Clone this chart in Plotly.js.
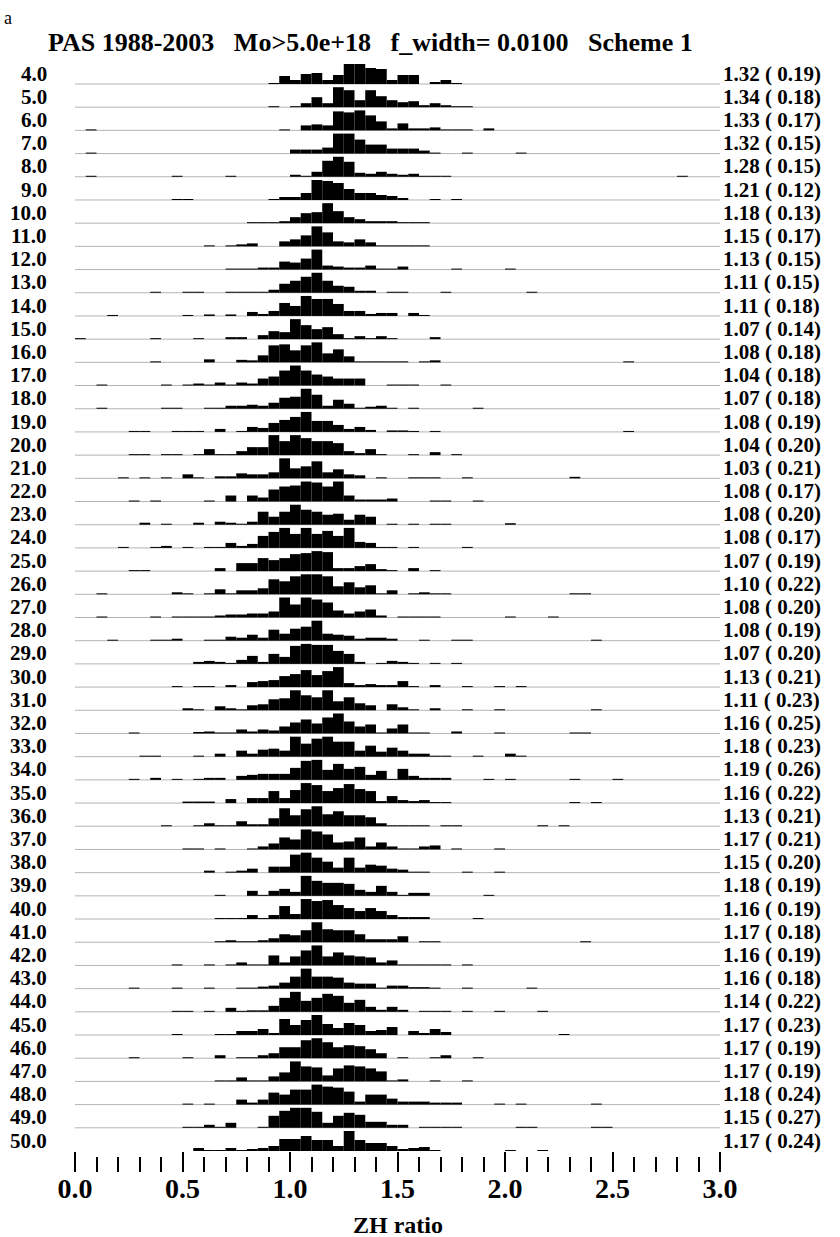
<!DOCTYPE html>
<html><head><meta charset="utf-8">
<script src="https://cdn.plot.ly/plotly-3.0.1.min.js"></script>
<style>html,body{margin:0;padding:0;background:#fff;} #chart{width:840px;height:1237px;}</style>
</head><body><div id="chart"></div>
<script>
// ---- data ----
const depths = [4,5,6,7,8,9,10,11,12,13,14,15,16,17,18,19,20,21,22,23,24,25,26,27,28,29,30,31,32,33,34,35,36,37,38,39,40,41,42,43,44,45,46,47,48,49,50];
const meanZH = [1.32,1.34,1.33,1.32,1.28,1.21,1.18,1.15,1.13,1.11,1.11,1.07,1.08,1.04,1.07,1.08,1.04,1.03,1.08,1.08,1.08,1.07,1.10,1.08,1.08,1.07,1.13,1.11,1.16,1.18,1.19,1.16,1.13,1.17,1.15,1.18,1.16,1.17,1.16,1.16,1.14,1.17,1.17,1.17,1.18,1.15,1.17];
const stdZH  = [0.19,0.18,0.17,0.15,0.15,0.12,0.13,0.17,0.15,0.15,0.18,0.14,0.18,0.18,0.18,0.19,0.20,0.21,0.17,0.20,0.17,0.19,0.22,0.20,0.19,0.20,0.21,0.23,0.25,0.23,0.26,0.22,0.21,0.21,0.20,0.19,0.19,0.18,0.19,0.18,0.22,0.23,0.19,0.19,0.24,0.27,0.24];
const binWidth = 0.05;
// histograms: [bin left edge, relative height]
const h04 = [[0.90,1],[0.95,8],[1.00,4],[1.05,10],[1.10,11],[1.15,4],[1.20,9],[1.25,20],[1.30,20],[1.35,16],[1.40,15],[1.45,4],[1.50,9],[1.55,9],[1.65,2],[1.70,4],[1.75,1]];
const h05 = [[0.90,1],[1.00,1],[1.05,4],[1.10,10],[1.15,4],[1.20,20],[1.25,17],[1.30,7],[1.35,17],[1.40,11],[1.45,7],[1.50,5],[1.55,6],[1.60,2],[1.65,4],[1.70,2],[1.75,1],[1.80,1]];
const h06 = [[0.05,1],[0.95,1],[1.05,5],[1.10,6],[1.15,5],[1.20,19],[1.25,18],[1.30,20],[1.35,15],[1.40,9],[1.45,2],[1.50,7],[1.55,2],[1.60,2],[1.65,3],[1.70,1],[1.75,1],[1.80,1],[1.90,2]];
const h07 = [[0.05,1],[1.00,4],[1.05,4],[1.10,4],[1.15,6],[1.20,20],[1.25,20],[1.30,14],[1.35,9],[1.40,9],[1.45,5],[1.50,5],[1.55,5],[1.60,3],[1.65,1],[1.80,1],[2.05,1]];
const h08 = [[0.05,1],[0.45,1],[0.70,1],[1.00,2],[1.05,1],[1.10,5],[1.15,16],[1.20,20],[1.25,15],[1.30,4],[1.35,3],[1.40,5],[1.45,3],[1.50,2],[1.55,3],[1.60,1],[1.65,1],[1.70,1],[2.80,1]];
const h09 = [[0.45,1],[0.50,1],[0.90,1],[0.95,3],[1.00,3],[1.05,7],[1.10,20],[1.15,19],[1.20,17],[1.25,11],[1.30,7],[1.35,7],[1.40,5],[1.45,4],[1.50,2],[1.65,1],[1.75,1]];
const h10 = [[0.80,1],[0.85,1],[0.90,1],[0.95,2],[1.00,6],[1.05,10],[1.10,11],[1.15,20],[1.20,12],[1.25,6],[1.30,4],[1.35,2],[1.40,2],[1.45,2],[1.50,1],[1.55,1],[1.60,1]];
const h11 = [[0.60,1],[0.70,1],[0.75,2],[0.80,3],[0.95,5],[1.00,7],[1.05,11],[1.10,20],[1.15,14],[1.20,5],[1.25,4],[1.30,7],[1.35,4],[1.40,1],[1.45,1],[1.50,1],[1.55,1],[1.60,1]];
const h12 = [[0.70,1],[0.75,1],[0.80,1],[0.85,2],[0.90,2],[0.95,8],[1.00,7],[1.05,11],[1.10,20],[1.15,4],[1.20,3],[1.25,2],[1.30,2],[1.35,4],[1.40,1],[1.45,1],[1.50,3],[1.75,1],[2.00,1]];
const h13 = [[0.35,1],[0.50,1],[0.55,1],[0.70,1],[0.75,1],[0.80,1],[0.85,1],[0.90,3],[0.95,9],[1.00,12],[1.05,16],[1.10,20],[1.15,12],[1.20,7],[1.25,6],[1.30,2],[1.35,2],[1.45,1],[1.50,1],[1.70,1],[2.10,1]];
const h14 = [[0.15,1],[0.50,1],[0.60,1.5],[0.70,1.5],[0.80,4],[0.85,2],[0.90,5],[0.95,13],[1.00,10],[1.05,20],[1.10,17],[1.15,17],[1.20,12],[1.25,5],[1.30,5],[1.35,2],[1.40,3],[1.45,3],[1.55,3],[1.60,1]];
const h15 = [[0.00,1],[0.35,1],[0.55,1],[0.70,2],[0.75,2],[0.85,4],[0.90,8],[0.95,7],[1.00,20],[1.05,14],[1.10,10],[1.15,12],[1.20,5],[1.25,1],[1.30,3],[1.35,1],[1.40,3],[1.45,1],[1.65,2]];
const h16 = [[0.35,1],[0.60,3],[0.75,2.5],[0.80,2],[0.85,7],[0.90,17],[0.95,18],[1.00,12],[1.05,17],[1.10,20],[1.15,9],[1.20,13],[1.25,6],[1.30,1],[1.35,1],[1.40,1],[1.45,1],[1.50,1],[1.60,1],[1.65,2],[2.55,1]];
const h17 = [[0.10,1],[0.40,1],[0.50,1],[0.55,2],[0.60,1],[0.65,3],[0.70,1],[0.75,3],[0.80,2],[0.85,7],[0.90,9],[0.95,15],[1.00,20],[1.05,15],[1.10,11],[1.15,9],[1.20,7],[1.25,7],[1.30,7],[1.45,1],[1.50,1],[1.55,1],[1.70,1]];
const h18 = [[0.10,1],[0.40,1],[0.45,1],[0.60,1],[0.65,1],[0.70,3],[0.75,3],[0.80,4],[0.85,3],[0.90,6],[0.95,11],[1.00,12],[1.05,20],[1.10,14],[1.15,3],[1.20,9],[1.25,5],[1.30,1],[1.35,2],[1.40,3],[1.45,1],[1.55,1],[1.85,1]];
const h19 = [[0.25,1],[0.30,1],[0.45,1],[0.50,1],[0.55,1],[0.65,3],[0.75,1],[0.80,5],[0.85,4],[0.90,9],[0.95,12],[1.00,15],[1.05,20],[1.10,11],[1.15,11],[1.20,7],[1.25,3],[1.30,5],[1.35,2],[1.45,1.5],[1.50,1.5],[1.55,1],[1.65,1],[2.55,1]];
const h20 = [[0.25,1],[0.30,1],[0.40,1],[0.45,1],[0.55,1],[0.60,6],[0.65,1],[0.70,1],[0.75,4],[0.80,8],[0.85,8],[0.90,20],[0.95,14],[1.00,20],[1.05,17],[1.10,14],[1.15,14],[1.20,12],[1.25,4],[1.30,2],[1.35,6],[1.40,1],[1.55,1],[1.65,3],[1.75,1]];
const h21 = [[0.20,1],[0.30,1],[0.40,1],[0.50,4],[0.55,1],[0.65,2],[0.70,2],[0.75,5],[0.80,4],[0.85,4],[0.90,6],[0.95,20],[1.00,10],[1.05,12],[1.10,17],[1.15,6],[1.20,9],[1.25,4],[1.30,3],[1.40,1],[1.55,1],[1.60,1],[1.65,1],[1.80,1],[2.30,1.5]];
const h22 = [[0.25,1],[0.35,1],[0.60,1],[0.70,6],[0.80,6],[0.85,4],[0.90,12],[0.95,15],[1.00,16],[1.05,20],[1.10,19],[1.15,15],[1.20,20],[1.25,6],[1.30,2],[1.35,2],[1.40,2],[1.45,3],[1.65,1],[1.70,1],[1.85,1]];
const h23 = [[0.30,2],[0.40,1],[0.55,2],[0.65,3],[0.70,2],[0.75,1],[0.80,3],[0.85,13],[0.90,8],[0.95,13],[1.00,20],[1.05,15],[1.10,13],[1.15,10],[1.20,11],[1.25,5],[1.30,10],[1.35,8],[1.45,1],[1.55,1],[1.65,1],[1.70,1],[2.00,1.5]];
const h24 = [[0.20,1],[0.35,1],[0.40,2],[0.50,1],[0.60,1],[0.65,1],[0.70,5],[0.75,2],[0.80,4],[0.85,12],[0.90,16],[0.95,20],[1.00,14],[1.05,20],[1.10,14],[1.15,17],[1.20,12],[1.25,20],[1.30,6],[1.35,5],[1.40,1],[1.45,1],[1.55,1],[1.80,1]];
const h25 = [[0.25,1],[0.30,1],[0.65,3],[0.75,8],[0.80,8],[0.85,13],[0.90,11],[0.95,13],[1.00,17],[1.05,18],[1.10,20],[1.15,19],[1.20,3],[1.25,3],[1.30,5],[1.35,7],[1.40,2],[1.45,1],[1.55,3],[1.65,1]];
const h26 = [[0.10,1],[0.45,2],[0.50,1],[0.60,1],[0.65,5],[0.70,1],[0.75,4],[0.80,4],[0.85,6],[0.90,15],[0.95,13],[1.00,18],[1.05,20],[1.10,20],[1.15,18],[1.20,8],[1.25,12],[1.30,7],[1.35,9],[1.40,1],[1.45,4],[1.55,1],[1.60,2],[1.65,1],[1.70,1],[2.30,1],[2.35,1]];
const h27 = [[0.10,1],[0.35,1],[0.45,1],[0.50,1],[0.55,1],[0.60,1],[0.65,2],[0.70,3],[0.75,3],[0.80,4],[0.85,4],[0.90,6],[0.95,20],[1.00,13],[1.05,20],[1.10,18],[1.15,15],[1.20,7],[1.25,4],[1.30,6],[1.35,8],[1.40,2],[1.50,1],[1.55,1],[1.60,1],[1.65,1],[2.00,1],[2.20,1]];
const h28 = [[0.15,1],[0.35,1],[0.40,1],[0.45,2],[0.60,1],[0.65,1],[0.70,4],[0.75,3],[0.80,6],[0.85,3],[0.90,11],[0.95,7],[1.00,12],[1.05,14],[1.10,20],[1.15,7],[1.20,6],[1.25,5],[1.30,2],[1.35,3],[1.40,3],[1.45,2],[1.60,1],[1.75,1],[1.80,1],[2.40,1]];
const h29 = [[0.55,2],[0.60,3],[0.65,2],[0.70,1],[0.75,4],[0.80,8],[0.85,2],[0.90,10],[0.95,7],[1.00,18],[1.05,20],[1.10,19],[1.15,19],[1.20,13],[1.25,10],[1.30,2],[1.40,1],[1.45,3],[1.50,2],[1.55,1],[1.65,1],[1.75,1]];
const h30 = [[0.45,1],[0.55,1],[0.60,1],[0.70,2],[0.80,5],[0.85,6],[0.90,7],[0.95,11],[1.00,13],[1.05,17],[1.10,12],[1.15,16],[1.20,20],[1.25,4],[1.30,2],[1.35,3],[1.40,2],[1.45,2],[1.50,6],[1.55,1],[1.65,2],[1.80,1],[1.95,1],[2.05,1]];
const h31 = [[0.50,2],[0.55,1],[0.65,4],[0.70,2],[0.75,1],[0.80,5],[0.85,6],[0.90,11],[0.95,12],[1.00,20],[1.05,15],[1.10,13],[1.15,20],[1.20,9],[1.25,13],[1.30,7],[1.35,5],[1.45,6],[1.50,3],[1.55,1],[1.65,2],[1.80,1],[1.95,1],[2.40,1]];
const h32 = [[0.25,1],[0.55,1.5],[0.60,2],[0.65,1],[0.70,1],[0.75,4],[0.80,2],[0.85,4],[0.90,3],[0.95,7],[1.00,11],[1.05,14],[1.10,10],[1.15,16],[1.20,20],[1.25,12],[1.30,7],[1.35,9],[1.40,1],[1.45,5],[1.50,9],[1.55,1],[1.60,1],[1.75,2],[1.95,1],[2.30,1],[2.35,1]];
const h33 = [[0.30,1],[0.35,1],[0.55,1],[0.65,3],[0.75,6],[0.80,3],[0.85,7],[0.90,8],[0.95,6],[1.00,20],[1.05,13],[1.10,18],[1.15,20],[1.20,15],[1.25,15],[1.30,6],[1.35,11],[1.40,5],[1.45,9],[1.50,6],[1.55,3],[1.60,3],[1.65,1],[1.70,1],[1.85,1],[2.00,3],[2.05,1]];
const h34 = [[0.25,1],[0.35,2],[0.45,1],[0.55,1],[0.60,2],[0.65,2],[0.75,4],[0.80,5],[0.85,6],[0.90,6],[0.95,6],[1.00,12],[1.05,19],[1.10,20],[1.15,10],[1.20,16],[1.25,11],[1.30,13],[1.35,5],[1.40,9],[1.45,1],[1.50,11],[1.55,4],[1.60,2],[1.65,2],[1.70,2],[1.90,1],[2.00,1],[2.30,1],[2.50,1]];
const h35 = [[0.50,1.5],[0.55,1.5],[0.60,1.5],[0.70,4],[0.80,5],[0.85,5],[0.90,12],[0.95,5],[1.00,13],[1.05,20],[1.10,18],[1.15,12],[1.20,15],[1.25,19],[1.30,14],[1.35,12],[1.40,2],[1.45,7],[1.50,3],[1.55,2],[1.60,3],[1.65,1],[1.70,1],[2.30,1],[2.40,1]];
const h36 = [[0.40,1],[0.55,1],[0.60,3],[0.65,1],[0.70,1],[0.75,5],[0.80,2],[0.85,2],[0.90,8],[0.95,18],[1.00,11],[1.05,17],[1.10,20],[1.15,12],[1.20,15],[1.25,11],[1.30,11],[1.35,9],[1.40,3],[1.45,1],[1.50,1],[1.55,1],[1.60,1],[1.70,1],[1.75,1],[2.15,1],[2.25,1]];
const h37 = [[0.50,1],[0.55,1],[0.65,1],[0.80,1],[0.85,3],[0.90,6],[0.95,12],[1.00,10],[1.05,20],[1.10,18],[1.15,15],[1.20,7],[1.25,8],[1.30,12],[1.35,3],[1.40,7],[1.45,3],[1.50,1],[1.55,1],[1.60,3],[1.65,4],[1.75,1],[1.95,1]];
const h38 = [[0.60,2],[0.70,1],[0.75,2],[0.80,4],[0.90,6],[0.95,6],[1.00,18],[1.05,20],[1.10,15],[1.15,11],[1.20,5],[1.25,15],[1.30,5],[1.35,8],[1.40,7],[1.45,4],[1.50,3],[1.55,1],[1.60,1],[1.80,1],[1.95,1]];
const h39 = [[0.65,1],[0.80,5],[0.85,1],[0.90,5],[0.95,7],[1.00,4],[1.05,20],[1.10,15],[1.15,13],[1.20,13],[1.25,12],[1.30,6],[1.35,4],[1.40,10],[1.45,4],[1.50,1],[1.55,3],[1.60,3],[1.90,1]];
const h40 = [[0.65,1],[0.70,1],[0.75,1],[0.80,4],[0.85,1],[0.90,4],[0.95,13],[1.00,5],[1.05,20],[1.10,18],[1.15,19],[1.20,14],[1.25,11],[1.30,8],[1.35,11],[1.40,8],[1.45,4],[1.50,2],[1.55,2],[1.60,2],[1.85,1]];
const h41 = [[0.65,1],[0.70,2],[0.75,1],[0.80,1],[0.85,2],[0.90,4],[0.95,8],[1.00,7],[1.05,12],[1.10,20],[1.15,13],[1.20,12],[1.25,12],[1.30,8],[1.35,3],[1.40,3],[1.45,3],[1.50,6],[1.60,1],[1.65,1],[2.35,1]];
const h42 = [[0.45,1],[0.60,1],[0.70,1],[0.75,3],[0.80,1],[0.85,1],[0.90,10],[0.95,3],[1.00,9],[1.05,15],[1.10,20],[1.15,9],[1.20,13],[1.25,10],[1.30,9],[1.35,8],[1.40,3],[1.45,5],[1.50,1],[1.55,1],[1.60,1],[1.65,1],[1.70,1],[1.80,1]];
const h43 = [[0.25,1],[0.45,1],[0.60,1],[0.75,1],[0.80,1],[0.85,2],[0.90,3],[0.95,6],[1.00,12],[1.05,20],[1.10,12],[1.15,12],[1.20,11],[1.25,6],[1.30,5],[1.35,5],[1.40,1],[1.45,3],[1.50,3],[1.55,1.5],[1.60,1.5],[1.65,1],[1.80,1],[2.10,1]];
const h44 = [[0.45,1],[0.50,1],[0.60,1],[0.70,4],[0.75,1],[0.80,1.5],[0.85,1.5],[0.90,6],[0.95,14],[1.00,20],[1.05,11],[1.10,14],[1.15,18],[1.20,16],[1.25,9],[1.30,12],[1.35,5],[1.40,2],[1.45,5],[1.50,2],[1.60,1],[1.65,1],[1.70,1],[1.80,1],[1.95,1],[2.15,1]];
const h45 = [[0.45,1],[0.65,1],[0.70,1],[0.75,4],[0.80,4],[0.85,6],[0.90,2],[0.95,16],[1.00,10],[1.05,15],[1.10,20],[1.15,11],[1.20,7],[1.25,12],[1.30,10],[1.35,4],[1.40,5],[1.45,8],[1.55,4],[1.60,2],[1.65,6],[1.70,3],[2.25,1]];
const h46 = [[0.25,1],[0.50,1],[0.65,3],[0.75,1],[0.80,1],[0.85,3],[0.90,5],[0.95,11],[1.00,11],[1.05,18],[1.10,20],[1.15,16],[1.20,11],[1.25,13],[1.30,12],[1.35,9],[1.40,5],[1.50,1],[1.65,1],[1.70,3],[1.85,1]];
const h47 = [[0.65,1],[0.70,1],[0.75,4],[0.80,1],[0.85,1],[0.90,5],[0.95,9],[1.00,20],[1.05,15],[1.10,14],[1.15,6],[1.20,13],[1.25,16],[1.30,15],[1.35,13],[1.40,10],[1.45,1],[1.50,2],[1.65,1],[1.80,1]];
const h48 = [[0.50,1],[0.60,1],[0.75,5],[0.80,2],[0.85,5],[0.90,12],[0.95,10],[1.00,15],[1.05,15],[1.10,20],[1.15,18],[1.20,17],[1.25,13],[1.30,3],[1.35,10],[1.40,10],[1.45,6],[1.50,3],[1.55,3],[1.60,3],[1.65,2],[1.70,2],[1.75,2],[1.95,1],[2.05,1],[2.40,1]];
const h49 = [[0.50,1],[0.55,1],[0.60,3],[0.65,1],[0.70,5],[0.85,1],[0.90,12],[0.95,17],[1.00,20],[1.05,20],[1.10,16],[1.15,5],[1.20,12],[1.25,15],[1.30,13],[1.35,6],[1.40,6],[1.45,3],[1.50,3],[1.60,1],[1.65,1],[1.70,1],[1.75,1],[2.05,1],[2.10,1],[2.40,1],[2.45,1]];
const h50 = [[0.55,3],[0.60,1],[0.65,1],[0.70,3],[0.75,1],[0.80,2],[0.85,3],[0.90,5],[0.95,12],[1.00,12],[1.05,15],[1.10,11],[1.15,11],[1.20,5],[1.25,20],[1.30,11],[1.35,8],[1.40,8],[1.45,5],[1.50,2],[1.55,3],[1.60,4],[1.65,1],[2.00,1],[2.15,1]];
const histograms = [h04,h05,h06,h07,h08,h09,h10,h11,h12,h13,h14,h15,h16,h17,h18,h19,h20,h21,h22,h23,h24,h25,h26,h27,h28,h29,h30,h31,h32,h33,h34,h35,h36,h37,h38,h39,h40,h41,h42,h43,h44,h45,h46,h47,h48,h49,h50];
const majorTickVals = [0,0.5,1.0,1.5,2.0,2.5,3.0];
const majorTickText = ['0.0','0.5','1.0','1.5','2.0','2.5','3.0'];
const minorTickVals = [0,0.1,0.2,0.3,0.4,0.5,0.6,0.7,0.8,0.9,1.0,1.1,1.2,1.3,1.4,1.5,1.6,1.7,1.8,1.9,2.0,2.1,2.2,2.3,2.4,2.5,2.6,2.7,2.8,2.9,3.0];
const titleText = 'PAS 1988-2003\u00a0\u00a0\u00a0Mo&gt;5.0e+18\u00a0\u00a0\u00a0f_width= 0.0100\u00a0\u00a0\u00a0Scheme 1';
const xTitle = 'ZH ratio';
const panelLetter = 'a';

// ---- layout geometry (pixels) ----
const W = 840, H = 1237;
const mL = 75, mR = 120, mT = 60, mB = 81;
const plotW = W - mL - mR;
const plotH = H - mT - mB;          // paper height
const axisGap = 5;                   // minor ticks start this far below the last baseline
const firstBasePx = 84, lastBasePx = 1151;
const nRows = depths.length;
const rowPx = (lastBasePx - firstBasePx) / (nRows - 1);
const yTop = (firstBasePx - mT) / rowPx;
const barMax = 20 / rowPx;           // tallest bar ~20 px
const FONT = 'Liberation Serif, Times New Roman, serif';
const labelLift = 0.45;

const traces = [];
const shapes = [];
const annotations = [];
histograms.forEach((hist, i) => {
  const maxH = Math.max(...hist.map(p => p[1]));
  traces.push({
    type: 'bar',
    x: hist.map(p => p[0] + binWidth / 2),
    y: hist.map(p => p[1] / maxH * barMax),
    base: -i,
    width: binWidth,
    marker: {color: '#000', line: {width: 0}},
    hoverinfo: 'skip', showlegend: false
  });
  if (i < nRows - 1) {
    shapes.push({type: 'line', xref: 'x', yref: 'y', x0: 0, x1: 3, y0: -i, y1: -i,
      line: {color: '#b4b4b4', width: 1}, layer: 'below'});
  }
  annotations.push({xref: 'paper', yref: 'y', x: (48 - mL) / plotW, y: -i + labelLift,
    xanchor: 'right', yanchor: 'middle', showarrow: false, borderpad: 0,
    text: '<b>' + depths[i].toFixed(1) + '</b>', font: {family: FONT, size: 21, color: '#000'}});
  annotations.push({xref: 'paper', yref: 'y', x: (722 - mL) / plotW, y: -i + labelLift,
    xanchor: 'left', yanchor: 'middle', showarrow: false, borderpad: 0,
    text: '<b>' + meanZH[i].toFixed(2) + ' ( ' + stdZH[i].toFixed(2) + ')</b>',
    font: {family: FONT, size: 21, color: '#000'}});
});
annotations.push({xref: 'paper', yref: 'paper', x: (3 - mL) / plotW, y: (H - mB - 18) / plotH,
  xanchor: 'left', yanchor: 'middle', showarrow: false, borderpad: 0, text: panelLetter,
  font: {family: FONT, size: 18, color: '#000'}});
annotations.push({xref: 'paper', yref: 'paper', x: 0.5, y: -(1225 - (H - mB)) / plotH,
  xanchor: 'center', yanchor: 'middle', showarrow: false, borderpad: 0, text: '<b>' + xTitle + '</b>',
  font: {family: FONT, size: 24, color: '#000'}});
// dummy trace so the minor-tick axis is drawn
traces.push({type: 'scatter', x: [0], y: [null], xaxis: 'x2', yaxis: 'y', hoverinfo: 'skip', showlegend: false});

const layout = {
  width: W, height: H,
  margin: {l: mL, r: mR, t: mT, b: mB},
  paper_bgcolor: '#fff', plot_bgcolor: '#fff',
  barmode: 'overlay', showlegend: false,
  title: {text: '<b>' + titleText + '</b>', x: 48 / W, xanchor: 'left', y: 1 - 42 / H, yanchor: 'middle',
    font: {family: FONT, size: 26, color: '#000'}},
  xaxis: {range: [0, 3], anchor: 'free', position: axisGap / plotH,
    showgrid: false, zeroline: false, showline: false,
    tickmode: 'array', tickvals: majorTickVals, ticktext: majorTickText,
    ticks: 'outside', ticklen: 20, tickwidth: 2, tickcolor: '#000', ticklabelstandoff: -8,
    tickfont: {family: FONT, size: 28, color: '#000', weight: 'bold'},
    automargin: false, fixedrange: true},
  xaxis2: {range: [0, 3], overlaying: 'x', anchor: 'free', position: 0,
    showgrid: false, zeroline: false, showline: false,
    tickmode: 'array', tickvals: minorTickVals, ticks: 'outside', ticklen: 15, tickwidth: 2, tickcolor: '#000',
    showticklabels: false, automargin: false, fixedrange: true},
  yaxis: {domain: [axisGap / plotH, 1], range: [-(nRows - 1), yTop], visible: false,
    showgrid: false, zeroline: false, fixedrange: true},
  shapes: shapes,
  annotations: annotations
};
Plotly.newPlot('chart', traces, layout, {staticPlot: true, displayModeBar: false});
</script>
</body></html>
